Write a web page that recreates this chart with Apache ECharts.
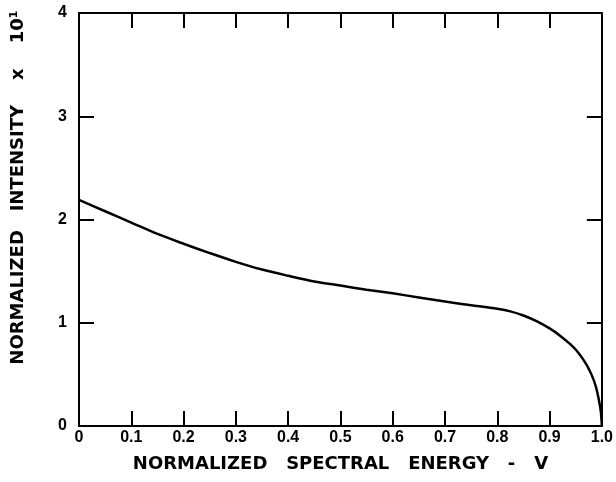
<!DOCTYPE html>
<html>
<head>
<meta charset="utf-8">
<script src="https://cdn.jsdelivr.net/npm/echarts@6/dist/echarts.min.js"></script>
<style>html,body{margin:0;padding:0;background:#fff;}#c{width:616px;height:482px;}</style>
</head>
<body>
<div id="c"></div>
<script>
var energy = [0, 0.05, 0.1, 0.15, 0.2, 0.25, 0.3, 0.35, 0.4, 0.45, 0.5, 0.55, 0.6, 0.65, 0.7, 0.75, 0.8, 0.825, 0.85, 0.875, 0.9, 0.92, 0.94, 0.955, 0.97, 0.98, 0.988, 0.994, 0.998, 1.0];
var intensity = [2.19, 2.08, 1.97, 1.86, 1.765, 1.675, 1.59, 1.515, 1.455, 1.40, 1.36, 1.32, 1.285, 1.245, 1.205, 1.17, 1.135, 1.11, 1.07, 1.015, 0.945, 0.875, 0.79, 0.71, 0.60, 0.50, 0.39, 0.26, 0.14, 0.0];
var xTickLabels = ['0', '0.1', '0.2', '0.3', '0.4', '0.5', '0.6', '0.7', '0.8', '0.9', '1.0'];
var yTickLabels = ['0', '1', '2', '3', '4'];

var pts = energy.map(function (v, i) { return [v, intensity[i]]; });
var font = 'DejaVu Sans';
var tickFont = 'Liberation Sans';
var axisLine = { show: true, onZero: false, lineStyle: { color: '#000', width: 2 } };
var tick = { show: true, inside: true, length: 15, lineStyle: { color: '#000', width: 2 } };

var chart = echarts.init(document.getElementById('c'), null, { renderer: 'canvas' });
chart.setOption({
  animation: false,
  backgroundColor: '#fff',
  grid: { left: 79, right: 14, top: 13, bottom: 56, containLabel: false },
  xAxis: [{
    type: 'value', min: 0, max: 1, interval: 0.1, position: 'bottom',
    axisLine: axisLine, axisTick: tick, splitLine: { show: false },
    axisLabel: {
      color: '#000', fontFamily: tickFont, fontWeight: 'bold', fontSize: 16, margin: 4,
      formatter: function (v) { return xTickLabels[Math.round(v * 10)]; }
    },
    name: 'NORMALIZED   SPECTRAL   ENERGY   -   V', nameLocation: 'middle', nameGap: 29,
    nameTextStyle: { color: '#000', fontFamily: font, fontWeight: 'bold', fontSize: 18 }
  }, {
    type: 'value', min: 0, max: 1, interval: 0.1, position: 'top',
    axisLine: axisLine, axisTick: tick, splitLine: { show: false }, axisLabel: { show: false }
  }],
  yAxis: [{
    type: 'value', min: 0, max: 4, interval: 1, position: 'left',
    axisLine: axisLine, axisTick: tick, splitLine: { show: false },
    axisLabel: {
      color: '#000', fontFamily: tickFont, fontWeight: 'bold', fontSize: 16, margin: 12,
      formatter: function (v) { return yTickLabels[Math.round(v)]; }
    },
    name: 'NORMALIZED   INTENSITY    x    10\u00B9', nameLocation: 'middle', nameGap: 52,
    nameTextStyle: { color: '#000', fontFamily: font, fontWeight: 'bold', fontSize: 18, padding: [0, 0, 0, 64] }
  }, {
    type: 'value', min: 0, max: 4, interval: 1, position: 'right',
    axisLine: axisLine, axisTick: tick, splitLine: { show: false }, axisLabel: { show: false }
  }],
  series: [{
    type: 'line', data: pts, smooth: 0.3, symbol: 'none',
    lineStyle: { color: '#000', width: 2.5 }
  }]
});
</script>
</body>
</html>
